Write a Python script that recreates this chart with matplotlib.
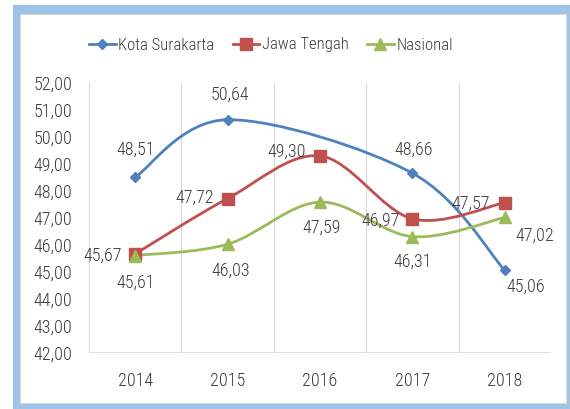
import matplotlib
matplotlib.use("Agg")
import matplotlib.pyplot as plt
from matplotlib.path import Path
from matplotlib.patches import PathPatch, Rectangle
from matplotlib.lines import Line2D
import numpy as np

plt.rcParams['font.family'] = ['Roboto Condensed', 'DejaVu Sans']
plt.rcParams['font.weight'] = 'light'

years = ['2014', '2015', '2016', '2017', '2018']
surakarta = [48.51, 50.64, None, 48.66, 45.06]
jateng = [45.67, 47.72, 49.30, 46.97, 47.57]
nasional = [45.61, 46.03, 47.59, 46.31, 47.02]

# label offsets (pixels) per point
off_surakarta = [(0, 27), (2, 25), None, (1, 23), (21, -16)]
off_jateng = [(-33, -2), (-33, 1), (-33, 4), (-32, -2), (-34, -1)]
off_nasional = [(0, -27), (3, -27), (2, -26), (0, -25), (30, -18)]

c_blue = '#4F81BD'
c_red = '#C0504D'
c_green = '#9BBB59'
txt = '#3A3A3A'
fs = 13
fs_leg = 12


def smooth_path(xs, ys):
    # Excel-style smoothed line: bezier segments, catmull-rom control points
    pts = np.array(list(zip(xs, ys)), dtype=float)
    n = len(pts)
    verts = [pts[0]]
    codes = [Path.MOVETO]
    for i in range(n - 1):
        p0 = pts[i - 1] if i > 0 else pts[i]
        p1 = pts[i]
        p2 = pts[i + 1]
        p3 = pts[i + 2] if i + 2 < n else pts[i + 1]
        c1 = p1 + (p2 - p0) / 6.0
        c2 = p2 - (p3 - p1) / 6.0
        verts += [c1, c2, p2]
        codes += [Path.CURVE4] * 3
    return Path(verts, codes)


fig = plt.figure(figsize=(5.7, 4.09), dpi=100)
W, H = 570, 409

# outer light-blue frame
fig.patches.append(Rectangle((13 / W, 0), 1, 1 - 5 / H, transform=fig.transFigure,
                             facecolor='#9DC3E6', edgecolor='none', zorder=-10))
fig.patches.append(Rectangle((20 / W, 1 - 403 / H), (566 - 20) / W, (403 - 14) / H,
                             transform=fig.transFigure, facecolor='white',
                             edgecolor='#D9D9D9', linewidth=0.8, zorder=-9))

ax = fig.add_axes([89 / W, 1 - 353 / H, 462 / W, 270 / H])
ax.set_facecolor('none')
ax.set_xlim(-0.5, 4.5)
ax.set_ylim(42, 52)

for b in np.arange(-0.5, 5, 1):
    ax.axvline(b, color='#D9D9D9', lw=0.8, zorder=1)
for s in ax.spines.values():
    s.set_visible(False)
ax.axhline(42, color='#D9D9D9', lw=1.2, zorder=1)

ax.set_xticks(range(len(years)))
ax.set_xticklabels(years)
ax.set_yticks(np.arange(42, 53, 1))
ax.set_yticklabels([('%.2f' % v).replace('.', ',') for v in np.arange(42, 53, 1)])
ax.tick_params(length=0, labelsize=fs, labelcolor=txt)
ax.tick_params(axis='x', pad=14)
ax.tick_params(axis='y', pad=12)

series = [
    (surakarta, c_blue, 'D', 5.5, off_surakarta, 'Kota Surakarta'),
    (jateng, c_red, 's', 9, off_jateng, 'Jawa Tengah'),
    (nasional, c_green, '^', 9, off_nasional, 'Nasional'),
]

handles = []
for vals, col, mk, ms, offs, name in series:
    xs = [i for i, v in enumerate(vals) if v is not None]
    ys = [v for v in vals if v is not None]
    ax.add_patch(PathPatch(smooth_path(xs, ys), facecolor='none', edgecolor=col,
                           lw=2.0, zorder=3, capstyle='round'))
    ax.plot(xs, ys, linestyle='none', marker=mk, markersize=ms, color=col, zorder=4)
    for i, v in enumerate(vals):
        if v is None:
            continue
        ax.annotate(('%.2f' % v).replace('.', ','), (i, v), xytext=offs[i],
                    textcoords='offset pixels', ha='center', va='center',
                    fontsize=fs, color=txt, zorder=5)
    handles.append(Line2D([], [], color=col, lw=2.0, marker=mk, markersize=ms, label=name))

fig.legend(handles=handles, loc='center', bbox_to_anchor=(271 / W, 1 - 45 / H),
           ncol=3, frameon=False, fontsize=fs_leg, labelcolor=txt, handlelength=1.6,
           handletextpad=0.15, columnspacing=1.1)

fig.savefig('out.png', dpi=100)
